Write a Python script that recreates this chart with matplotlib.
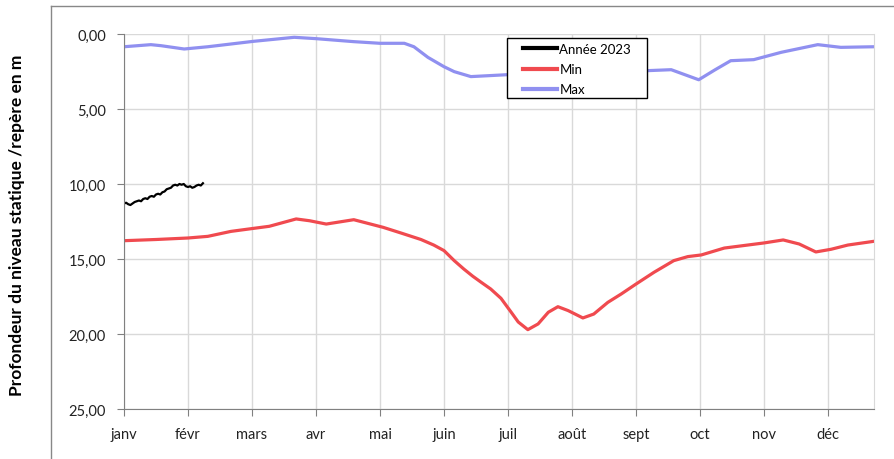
#Profondeur du niveau statique: annee 2023 vs min/max historiques
import matplotlib.pyplot as plt
from matplotlib.lines import Line2D
from matplotlib.patches import Rectangle

plt.rcParams['font.family'] = ['Lato', 'DejaVu Sans']

months = ['janv', 'févr', 'mars', 'avr', 'mai', 'juin', 'juil', 'août', 'sept', 'oct', 'nov', 'déc']

#position in months since 1 jan, depth in m
min_x = [0, 0.5, 1.0, 1.31, 1.67, 2.02, 2.27, 2.69, 2.9, 3.16, 3.59, 4.05, 4.33, 4.64, 4.84, 5.0,
         5.16, 5.31, 5.45, 5.58, 5.73, 5.89, 6.05, 6.16, 6.31, 6.47, 6.63, 6.78, 6.94, 7.17, 7.34,
         7.56, 7.77, 8.0, 8.28, 8.59, 8.81, 9.02, 9.38, 10.0, 10.3, 10.55, 10.81, 11.05, 11.31, 11.75]
min_y = [13.78, 13.7, 13.6, 13.49, 13.16, 12.96, 12.82, 12.33, 12.45, 12.67, 12.38, 12.89, 13.27, 13.7, 14.07, 14.44,
         15.11, 15.67, 16.15, 16.55, 17.0, 17.62, 18.55, 19.2, 19.71, 19.33, 18.55, 18.18, 18.44, 18.93, 18.67,
         17.89, 17.33, 16.67, 15.89, 15.11, 14.84, 14.73, 14.27, 13.93, 13.73, 14.0, 14.53, 14.35, 14.07, 13.8]

max_x = [0, 0.42, 0.58, 0.94, 1.31, 2.02, 2.66, 3.0, 3.59, 4.0, 4.38, 4.53, 4.75, 5.0, 5.16, 5.42,
         5.69, 6.0, 7.0, 8.0, 8.2, 8.55, 8.98, 9.23, 9.48, 9.84, 10.27, 10.84, 11.2, 11.72]
max_y = [0.85, 0.71, 0.78, 1.0, 0.85, 0.49, 0.22, 0.31, 0.51, 0.62, 0.62, 0.85, 1.56, 2.18, 2.51, 2.84,
         2.78, 2.71, 2.55, 2.45, 2.44, 2.38, 3.05, 2.4, 1.78, 1.71, 1.22, 0.71, 0.89, 0.85]

#annee 2023, daily values
y2023 = [11.3, 11.25, 11.35, 11.4, 11.3, 11.2, 11.15, 11.1, 11.15, 11.0, 10.95, 11.0, 10.85, 10.8, 10.85,
         10.7, 10.65, 10.7, 10.55, 10.5, 10.35, 10.3, 10.25, 10.1, 10.05, 10.1, 10.0, 10.05, 10.0, 10.15,
         10.2, 10.15, 10.25, 10.2, 10.1, 10.05, 10.1, 9.95]
x2023 = [d / 30.0 for d in range(len(y2023))]

fig = plt.figure(figsize=(8.94, 4.6), dpi=100)
ax = fig.add_axes([124/894, 50/460, 750/894, 375/460])

ax.plot(x2023, y2023, color='black', lw=1.6, label='Année 2023')
ax.plot(min_x, min_y, color='#F04A4F', lw=2.3, label='Min', solid_joinstyle='round')
ax.plot(max_x, max_y, color='#9090F0', lw=2.3, label='Max', solid_joinstyle='round')

ax.set_xlim(0, 750/64.0)
ax.set_ylim(25, 0)
ax.set_xticks(range(12))
ax.set_xticklabels(months, fontsize=10.5, color='#222222')
ax.set_yticks([0, 5, 10, 15, 20, 25])
ax.set_yticklabels(['0,00', '5,00', '10,00', '15,00', '20,00', '25,00'], fontsize=10.5, color='#222222')
ax.tick_params(direction='out', length=5, color='#808080', pad=8)
ax.grid(True, color='#d9d9d9', lw=1)
ax.set_axisbelow(True)
ax.spines['top'].set_visible(False)
ax.spines['right'].set_color('#d9d9d9')
ax.spines['left'].set_color('#808080')
ax.spines['bottom'].set_color('#808080')

ax.set_ylabel('Profondeur du niveau statique /repère en m', fontsize=12.5, fontweight='bold')
ax.yaxis.set_label_coords(-99/750, 0.493)

#legend box drawn by hand so the side padding matches
ax.add_patch(Rectangle((383/750, 311/375), 140/750, 60/375, transform=ax.transAxes,
                       facecolor='white', edgecolor='black', lw=1.0, zorder=4.5, clip_on=False))
leg = ax.legend(loc='upper left', bbox_to_anchor=(399/750, 366/375), borderaxespad=0, borderpad=0,
                frameon=False, fontsize=9.5, handlelength=2.6, handletextpad=0.15, labelspacing=0.62)
leg.set_zorder(5)
for h in leg.get_lines():
    h.set_linewidth(3)

#outer chart frame
fig.add_artist(Line2D([51/894, 1], [1 - 7/460, 1 - 7/460], color='#888888', lw=1))
fig.add_artist(Line2D([51/894, 51/894], [0, 1 - 7/460], color='#888888', lw=1))

fig.savefig('out.png', dpi=100)
